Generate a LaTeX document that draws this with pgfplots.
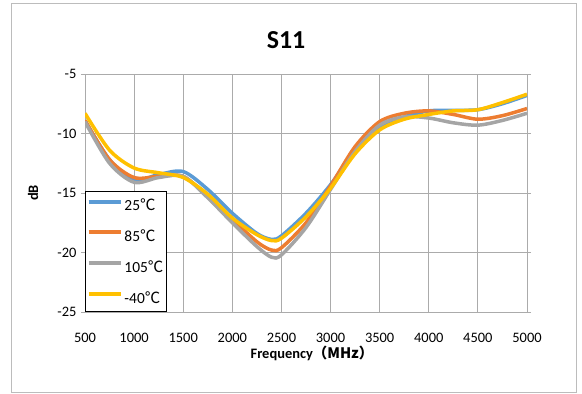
\documentclass[border=0pt]{standalone}
\usepackage{pgfplots}
\pgfplotsset{compat=1.18}
\usepackage{fontspec}
\setmainfont{Carlito}
\newfontfamily\cjk{Noto Sans CJK SC}
\definecolor{cblue}{HTML}{5B9BD5}
\definecolor{corange}{HTML}{ED7D31}
\definecolor{cgray}{HTML}{A5A5A5}
\definecolor{cyellow}{HTML}{FFC000}
\definecolor{gridc}{HTML}{ABABAB}
\begin{document}
\begin{tikzpicture}
\path[use as bounding box] (0,0) rectangle (582bp,-394bp);
\draw[gridc!80, line width=0.8bp] (11bp,-3bp) rectangle (576bp,-392bp);
\node[font=\fontsize{26}{28}\selectfont\bfseries] at (286bp,-40bp) {S11};
\node[font=\fontsize{14.5}{16}\selectfont\bfseries, rotate=90] at (33bp,-193bp) {dB};
\node[font=\fontsize{14.5}{16}\selectfont\bfseries] at (312bp,-353bp) {Frequency\cjk{（}MHz\cjk{）}};
\begin{axis}[
  scale only axis, width=442bp, height=238bp,
  at={(85bp,-312bp)}, anchor=south west,
  xmin=500, xmax=5000, ymin=-25, ymax=-5,
  xtick={500,1000,...,5000}, ytick={-25,-20,...,-5},
  grid=major, major grid style={gridc, line width=0.8bp},
  axis line style={gridc, line width=0.8bp},
  tick style={gridc, line width=0.8bp},
  xtick style={draw=none},
  tick align=outside, major tick length=4bp,
  tick label style={font=\fontsize{14.5}{16}\selectfont},
  xticklabel style={yshift=-14bp},
  yticklabel style={xshift=-1bp},
  /pgf/number format/.cd, 1000 sep={}, assume math mode=true, /pgfplots/.cd,
  legend style={at={(0,0)}, anchor=south west, draw=black, line width=1bp,
    font=\fontsize{15.5}{17}\selectfont, inner xsep=1bp, inner ysep=5bp,
    row sep=13.5bp, fill=white},
  legend cell align=left,
  legend image code/.code={\draw[#1, line width=4bp] (0bp,4bp) -- (32bp,4bp);},
  every axis plot/.append style={line width=3.5bp, smooth},
]
\addplot[cblue] coordinates {(500,-8.9) (750,-12.2) (1000,-13.9) (1250,-13.45) (1500,-13.2) (1750,-14.7) (2000,-16.7) (2250,-18.4) (2400,-18.9) (2500,-18.6) (2750,-16.7) (3000,-14.3) (3250,-11.4) (3500,-9.4) (3750,-8.6) (4000,-8.1) (4250,-8.05) (4500,-8.0) (4750,-7.5) (5000,-6.8)};
\addlegendentry{25\cjk{℃}}
\addplot[corange] coordinates {(500,-8.9) (750,-12.2) (1000,-13.7) (1250,-13.6) (1500,-13.6) (1750,-15.3) (2000,-17.2) (2250,-19.1) (2400,-19.8) (2500,-19.6) (2750,-17.5) (3000,-14.4) (3250,-11.1) (3500,-9.0) (3750,-8.3) (4000,-8.1) (4250,-8.4) (4500,-8.8) (4750,-8.5) (5000,-7.9)};
\addlegendentry{85\cjk{℃}}
\addplot[cgray] coordinates {(500,-9.0) (750,-12.5) (1000,-14.1) (1250,-13.7) (1500,-13.6) (1750,-15.4) (2000,-17.5) (2250,-19.5) (2400,-20.4) (2500,-20.2) (2750,-17.9) (3000,-14.7) (3250,-11.5) (3500,-9.3) (3750,-8.6) (4000,-8.7) (4250,-9.1) (4500,-9.3) (4750,-8.9) (5000,-8.3)};
\addlegendentry{105\cjk{℃}}
\addplot[cyellow] coordinates {(500,-8.3) (750,-11.4) (1000,-12.9) (1250,-13.3) (1500,-13.7) (1750,-15.1) (2000,-17.1) (2250,-18.5) (2400,-19.0) (2500,-18.8) (2750,-17.0) (3000,-14.6) (3250,-11.7) (3500,-9.7) (3750,-8.8) (4000,-8.4) (4250,-8.1) (4500,-8.0) (4750,-7.4) (5000,-6.7)};
\addlegendentry{-40\cjk{℃}}
\end{axis}
\end{tikzpicture}
\end{document}
